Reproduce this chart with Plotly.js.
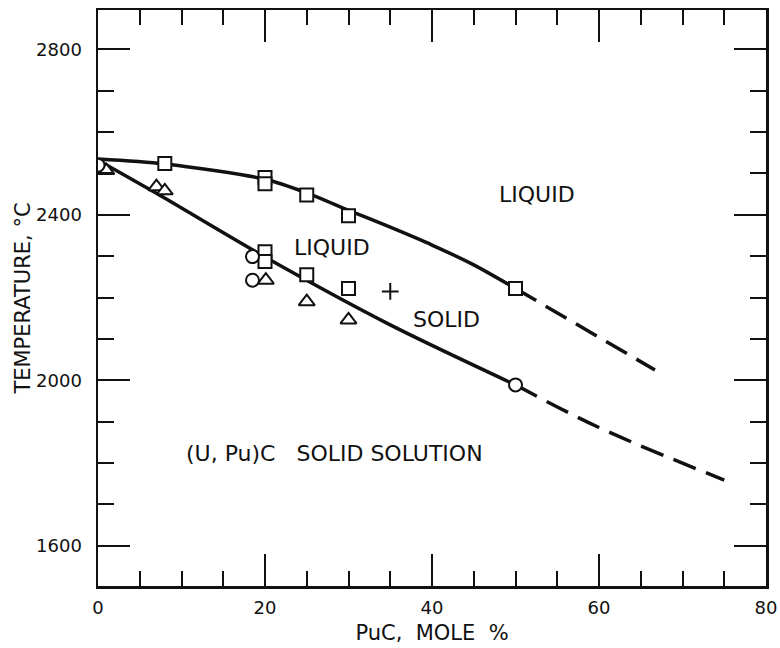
<!DOCTYPE html>
<html>
<head>
<meta charset="utf-8">
<script src="https://cdn.plot.ly/plotly-3.0.1.min.js"></script>
<style>html,body{margin:0;padding:0;background:#fff;}#chart{width:780px;height:648px;}</style>
</head>
<body>
<div id="chart"></div>
<script>
// Liquidus curve (solid part and dashed extrapolation)
const liqSolidX = [0, 8, 20, 25, 30, 35, 40, 45, 50];
const liqSolidY = [2535, 2523, 2486, 2453, 2411, 2370, 2327, 2279, 2222];
const liqDashX = [50, 66.7];
const liqDashY = [2222, 2025];
// Solidus curve
const solSolidX = [0, 7, 20, 35, 50];
const solSolidY = [2532, 2452, 2298, 2134, 1989];
const solDashX = [50, 60, 75];
const solDashY = [1989, 1886, 1759];
// Experimental points
const squareX = [8, 20, 20, 25, 30, 50, 20, 20, 25, 30];
const squareY = [2524, 2490, 2475, 2448, 2398, 2222, 2311, 2287, 2255, 2222];
const circleX = [0, 18.5, 18.5, 50];
const circleY = [2520, 2299, 2242, 1989];
const triangleX = [1, 7, 8, 20.1, 25, 30];
const triangleY = [2507, 2468, 2458, 2242, 2190, 2146];
const plusX = [35];
const plusY = [2215];
// Region labels
const labelText = ["LIQUID", "LIQUID", "SOLID", "(U, Pu)C\u00a0\u00a0\u00a0SOLID SOLUTION"];
const labelX = [52.6, 28.0, 41.7, 28.3];
const labelY = [2448, 2320, 2148, 1824];

const ink = '#111';
const lineStyle = {color: ink, width: 3.5};
const traces = [
  {x: liqSolidX, y: liqSolidY, mode: 'lines', line: Object.assign({shape: 'spline', smoothing: 0.8}, lineStyle)},
  {x: liqDashX, y: liqDashY, mode: 'lines', line: Object.assign({dash: '24px,11px'}, lineStyle)},
  {x: solSolidX, y: solSolidY, mode: 'lines', line: Object.assign({shape: 'spline', smoothing: 0.8}, lineStyle)},
  {x: solDashX, y: solDashY, mode: 'lines', line: Object.assign({dash: '24px,11px', shape: 'spline', smoothing: 1}, lineStyle)},
  {x: triangleX, y: triangleY, mode: 'markers', marker: {symbol: 'triangle-up', size: 14, color: '#fff', line: {color: ink, width: 2}}},
  {x: squareX, y: squareY, mode: 'markers', marker: {symbol: 'square', size: 13, color: '#fff', line: {color: ink, width: 2}}},
  {x: circleX, y: circleY, mode: 'markers', marker: {symbol: 'circle', size: 13, color: '#fff', line: {color: ink, width: 2}}},
  {x: plusX, y: plusY, mode: 'markers', marker: {symbol: 'cross-thin-open', size: 12, color: ink, line: {color: ink, width: 2}}}
];

const annotations = labelText.map((t, i) => ({
  x: labelX[i], y: labelY[i], xref: 'x', yref: 'y', text: t, showarrow: false,
  font: {family: 'DejaVu Sans', size: 22, color: ink}
}));

const layout = {
  width: 780, height: 648,
  margin: {l: 98, r: 14, t: 10, b: 62},
  paper_bgcolor: '#fff', plot_bgcolor: '#fff',
  showlegend: false,
  font: {family: 'DejaVu Sans', color: ink},
  xaxis: {
    range: [0, 80], tick0: 0, dtick: 20, ticks: 'inside', ticklen: 32, tickwidth: 2, tickcolor: ink,
    showline: true, linewidth: 2.5, linecolor: ink, mirror: 'ticks', showgrid: false, zeroline: false,
    tickfont: {size: 18, color: ink}, ticklabelstandoff: 4,
    minor: {dtick: 5, tick0: 0, ticks: 'inside', ticklen: 15, tickwidth: 2, tickcolor: ink, showgrid: false},
    title: {text: 'PuC,\u00a0 MOLE \u00a0%', font: {size: 21, color: ink}, standoff: 8}
  },
  yaxis: {
    range: [1503, 2895], tick0: 1600, dtick: 400, ticks: 'inside', ticklen: 32, tickwidth: 2, tickcolor: ink,
    showline: true, linewidth: 2.5, linecolor: ink, mirror: 'ticks', showgrid: false, zeroline: false,
    tickfont: {size: 18, color: ink}, ticklabelstandoff: 10,
    minor: {dtick: 100, tick0: 1600, ticks: 'inside', ticklen: 16, tickwidth: 2, tickcolor: ink, showgrid: false},
    title: {text: 'TEMPERATURE, °C', font: {size: 21, color: ink}, standoff: 0}
  },
  annotations: annotations
};

Plotly.newPlot('chart', traces, layout, {displayModeBar: false, staticPlot: true});
</script>
</body>
</html>
